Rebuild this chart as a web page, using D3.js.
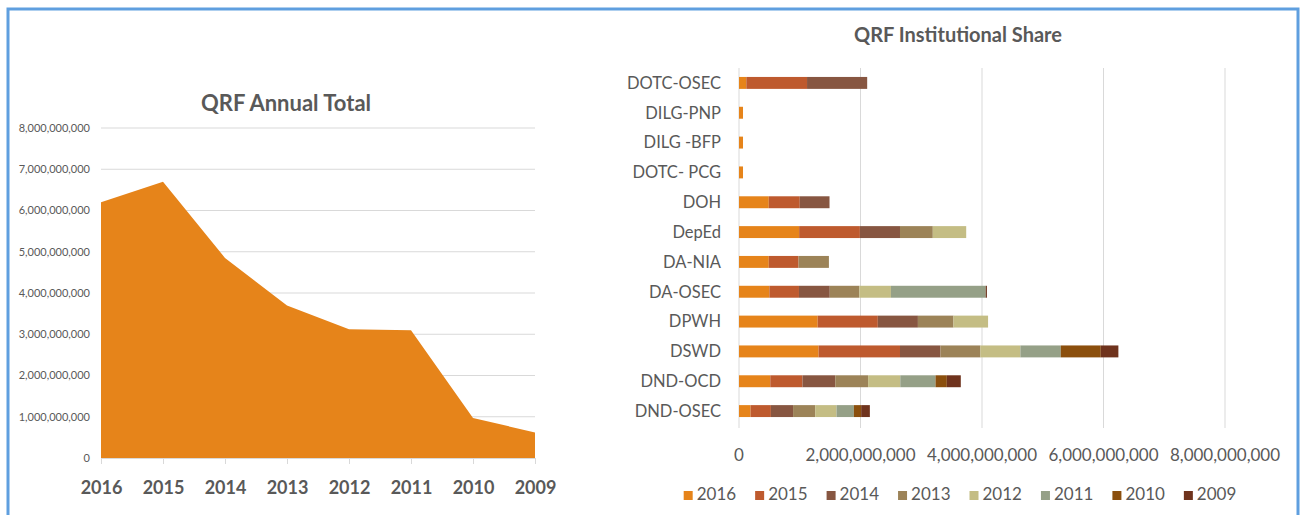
<!DOCTYPE html>
<html>
<head>
<meta charset="utf-8">
<script src="https://cdn.jsdelivr.net/npm/d3@7"></script>
<style>
  body { margin: 0; background: #fff; }
  svg text { font-family: Lato, "Liberation Sans", sans-serif; fill: #595959; }
</style>
</head>
<body>
<svg id="chart" width="1304" height="515"></svg>
<script>
// left chart: annual totals
const annualYears = ['2016', '2015', '2014', '2013', '2012', '2011', '2010', '2009']
const annualTotals = [6.2e9, 6.7e9, 4.85e9, 3.7e9, 3.12e9, 3.1e9, 0.97e9, 0.62e9]
const annualTicks = [0, 1e9, 2e9, 3e9, 4e9, 5e9, 6e9, 7e9, 8e9]

// right chart: institutional share, values in millions
const agencies = ['DOTC-OSEC', 'DILG-PNP', 'DILG -BFP', 'DOTC- PCG', 'DOH', 'DepEd', 'DA-NIA', 'DA-OSEC', 'DPWH', 'DSWD', 'DND-OCD', 'DND-OSEC']
const shareYears = ['2016', '2015', '2014', '2013', '2012', '2011', '2010', '2009']
const share2016 = [120, 66, 66, 66, 490, 990, 490, 500, 1295, 1310, 515, 190]
const share2015 = [1000, 0, 0, 0, 510, 1000, 490, 487, 990, 1340, 530, 335]
const share2014 = [990, 0, 0, 0, 490, 660, 0, 507, 660, 666, 540, 365]
const share2013 = [0, 0, 0, 0, 0, 540, 500, 487, 585, 658, 540, 365]
const share2012 = [0, 0, 0, 0, 0, 550, 0, 520, 570, 658, 530, 350]
const share2011 = [0, 0, 0, 0, 0, 0, 0, 1560, 0, 665, 580, 286]
const share2010 = [0, 0, 0, 0, 0, 0, 0, 0, 0, 658, 186, 120]
const share2009 = [0, 0, 0, 0, 0, 0, 0, 20, 0, 290, 230, 143]
const shareTicks = [0, 2e9, 4e9, 6e9, 8e9]
const yearColors = ['#e6841a', '#be5a2e', '#875641', '#9c8358', '#c4bd84', '#95a087', '#8b4f0d', '#6f331d']

const svg = d3.select('#chart')
const fmt = d3.format(',')
const GRID = '#d9d9d9'

// frame
svg.append('rect').attr('x', 8).attr('y', 9).attr('width', 1290).attr('height', 520)
  .attr('fill', 'none').attr('stroke', '#5f9fdf').attr('stroke-width', 3)

// ---- left: area chart ----
const xL = d3.scalePoint().domain(annualYears).range([101, 535])
const yL = d3.scaleLinear().domain([0, 8e9]).range([458, 128])

svg.append('g').selectAll('line').data(annualTicks.slice(1)).join('line')
  .attr('x1', 101).attr('x2', 535)
  .attr('y1', d => yL(d)).attr('y2', d => yL(d))
  .attr('stroke', GRID)

const area = d3.area()
  .x((d, i) => xL(annualYears[i]))
  .y0(yL(0))
  .y1(d => yL(d))

svg.append('path').datum(annualTotals).attr('d', area).attr('fill', '#e6841a')

const axL = svg.append('g').attr('transform', `translate(0,${yL(0)})`)
  .call(d3.axisBottom(xL).tickSize(6).tickPadding(17))
axL.select('.domain').attr('stroke', GRID)
axL.selectAll('.tick line').attr('stroke', GRID)
axL.selectAll('.tick text').attr('font-size', 18).attr('font-weight', 'bold')
  .attr('font-family', 'Lato, sans-serif').attr('fill', '#595959')

svg.append('g').selectAll('text').data(annualTicks).join('text')
  .attr('x', 90).attr('y', d => yL(d)).attr('dy', '0.35em')
  .attr('text-anchor', 'end').attr('font-size', 11)
  .text(d => fmt(d))

svg.append('text').attr('x', 286).attr('y', 111).attr('text-anchor', 'middle')
  .attr('font-size', 22).attr('font-weight', 'bold').text('QRF Annual Total')

// ---- right: stacked bars ----
const shareSeries = [share2016, share2015, share2014, share2013, share2012, share2011, share2010, share2009]
const rows = agencies.map((a, i) => {
  const row = { agency: a }
  shareYears.forEach((y, k) => { row[y] = shareSeries[k][i] * 1e6 })
  return row
})
const stack = d3.stack().keys(shareYears)(rows)

const xR = d3.scaleLinear().domain([0, 8e9]).range([739, 1225])
const yR = d3.scaleBand().domain(agencies).range([68, 426]).paddingInner(0.6).paddingOuter(0.3)
const color = d3.scaleOrdinal().domain(shareYears).range(yearColors)

svg.append('g').selectAll('line').data(shareTicks).join('line')
  .attr('x1', d => xR(d)).attr('x2', d => xR(d))
  .attr('y1', 68).attr('y2', 428)
  .attr('stroke', GRID)

svg.append('g').selectAll('g').data(stack).join('g')
  .attr('fill', d => color(d.key))
  .selectAll('rect').data(d => d).join('rect')
  .attr('x', d => xR(d[0]))
  .attr('width', d => xR(d[1]) - xR(d[0]))
  .attr('y', d => yR(d.data.agency))
  .attr('height', yR.bandwidth())

svg.append('g').selectAll('text').data(agencies).join('text')
  .attr('x', 721).attr('y', d => yR(d) + yR.bandwidth() / 2).attr('dy', '0.35em')
  .attr('text-anchor', 'end').attr('font-size', 16.5)
  .text(d => d)

svg.append('g').selectAll('text').data(shareTicks).join('text')
  .attr('x', d => xR(d)).attr('y', 461).attr('text-anchor', 'middle')
  .attr('font-size', 17).text(d => fmt(d))

svg.append('text').attr('x', 958).attr('y', 42).attr('text-anchor', 'middle')
  .attr('font-size', 20).attr('font-weight', 'bold').text('QRF Institutional Share')

// legend
const legend = svg.append('g')
const items = legend.selectAll('g').data(shareYears).join('g')
items.append('rect').attr('width', 9).attr('height', 9).attr('y', -9).attr('fill', d => color(d))
items.append('text').attr('x', 13).attr('font-size', 17).attr('dy', '0.02em').text(d => d)
let lx = 0
items.each(function () {
  d3.select(this).attr('transform', `translate(${lx},0)`)
  lx += 13 + this.querySelector('text').getComputedTextLength() + 19
})
legend.attr('transform', `translate(${960 - (lx - 19) / 2},500)`)
</script>
</body>
</html>
